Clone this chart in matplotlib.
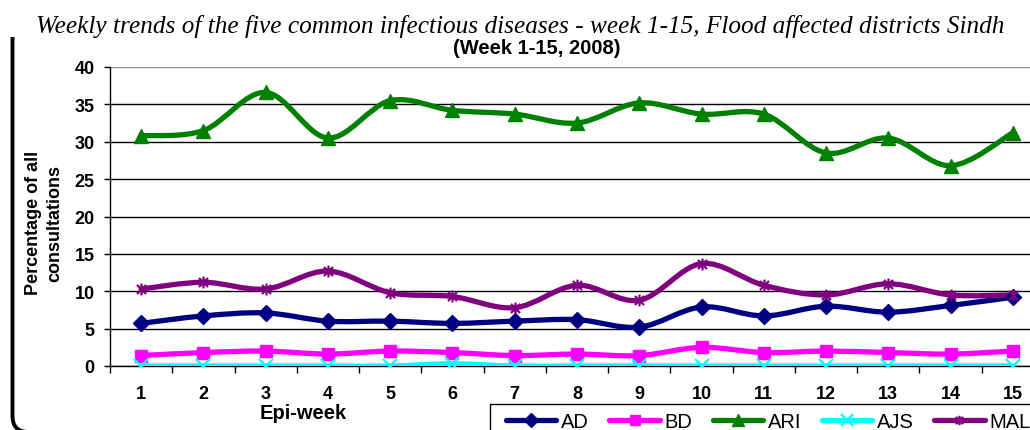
import matplotlib
matplotlib.use("Agg")
import matplotlib.pyplot as plt
import numpy as np
from matplotlib.path import Path
from matplotlib.patches import PathPatch, Rectangle
from matplotlib.lines import Line2D

# Data
weeks = list(range(1, 16))
ad = [5.7, 6.7, 7.1, 6.0, 6.0, 5.7, 6.0, 6.2, 5.2, 7.9, 6.7, 8.0, 7.2, 8.1, 9.2]
bd = [1.4, 1.8, 2.0, 1.6, 2.0, 1.8, 1.4, 1.6, 1.4, 2.5, 1.8, 2.0, 1.8, 1.6, 2.0]
ari = [30.8, 31.5, 36.6, 30.5, 35.5, 34.2, 33.7, 32.5, 35.2, 33.7, 33.7, 28.5, 30.5, 26.8, 31.2]
ajs = [0.0, 0.0, 0.0, 0.0, 0.0, 0.3, 0.0, 0.0, 0.0, 0.0, 0.0, 0.0, 0.0, 0.0, 0.0]
mal = [10.3, 11.2, 10.3, 12.7, 9.8, 9.3, 7.8, 10.8, 8.8, 13.7, 10.8, 9.5, 11.0, 9.5, 9.5]

names = ["AD", "BD", "ARI", "AJS", "MAL"]
colors = ["#000080", "#FF00FF", "#008000", "#00FFFF", "#800080"]

# asterisk-like marker (x plus vertical bar), like Excel's star
star = Path([(-1, -1), (1, 1), (-1, 1), (1, -1), (0, -1.3), (0, 1.3)],
            [Path.MOVETO, Path.LINETO, Path.MOVETO, Path.LINETO, Path.MOVETO, Path.LINETO])
markers = ["D", "s", "^", "x", star]
msizes = [8.5, 9, 10.5, 10, 8.5]


def smooth_path(x, y):
    # Catmull-Rom style bezier through the points (Excel "smoothed line")
    pts = np.column_stack([x, y]).astype(float)
    verts = [pts[0]]
    codes = [Path.MOVETO]
    n = len(pts)
    for i in range(n - 1):
        p0 = pts[max(i - 1, 0)]
        p1 = pts[i]
        p2 = pts[i + 1]
        p3 = pts[min(i + 2, n - 1)]
        c1 = p1 + (p2 - p0) / 6.0
        c2 = p2 - (p3 - p1) / 6.0
        verts += [c1, c2, p2]
        codes += [Path.CURVE4] * 3
    return Path(verts, codes)


plt.rcParams['font.family'] = ['Liberation Sans', 'DejaVu Sans']

W, H = 1030, 431
fig = plt.figure(figsize=(10.3, 4.31), dpi=100)
ax = fig.add_axes([110 / W, 1 - 367 / H, 934 / W, 299 / H])

series = [ad, bd, ari, ajs, mal]
handles = []
for vals, name, c, m, ms in zip(series, names, colors, markers, msizes):
    patch = PathPatch(smooth_path(weeks, vals), fill=False, edgecolor=c, lw=3.8,
                      capstyle='round', joinstyle='round', zorder=3)
    ax.add_patch(patch)
    mew = 1.6 if name in ("AJS", "MAL") else 1
    ax.plot(weeks, vals, ls='none', marker=m, ms=ms, color=c, mec=c, mew=mew, zorder=4)
    handles.append(Line2D([], [], color=c, lw=3.8, marker=m, ms=ms * 0.8, mec=c, mew=mew,
                          solid_capstyle='round'))

ax.set_xlim(0.5, 15.5)
ax.set_ylim(0, 40)
ax.set_yticks(range(0, 41, 5))
ax.set_xticks(weeks)
ax.set_xticks(np.arange(0.5, 15.6, 1), minor=True)
ax.tick_params(axis='x', which='major', length=0, pad=14)
ax.tick_params(axis='x', which='minor', length=5, direction='out', width=1)
ax.tick_params(axis='y', length=4, direction='out', width=1, pad=7)
for lab in ax.get_xticklabels() + ax.get_yticklabels():
    lab.set_fontsize(13)
    lab.set_fontweight('bold')

ax.grid(axis='y', color='black', lw=1)
ax.set_axisbelow(True)
for s in ['top', 'right']:
    ax.spines[s].set_visible(False)
ax.spines['left'].set_linewidth(1)
ax.spines['bottom'].set_linewidth(1)
ax.yaxis.get_gridlines()[-1].set_color('#888888')

ax.set_xlabel("Epi-week", fontsize=14.5, fontweight='bold')
ax.xaxis.set_label_coords((303 - 110) / 934, -(404 - 367) / 299)
ax.set_ylabel("Percentage of all\nconsultations", fontsize=13, fontweight='bold',
              linespacing=1.3)
ax.yaxis.set_label_coords(-(110 - 44) / 934, (367 - 223) / 299)
ax.yaxis.label.set_va('center')

fig.text(520 / W, 1 - 27 / H,
         "Weekly trends of the five common infectious diseases - week 1-15, Flood affected districts Sindh",
         ha='center', va='center', fontsize=18.2, style='italic',
         family=['Liberation Serif', 'DejaVu Serif'])
fig.text(537 / W, 1 - 49 / H, "(Week 1-15, 2008)", ha='center', va='center',
         fontsize=14.5, fontweight='bold')

# left/bottom edge of the original chart's rounded frame
r = 16
fx = [12.5, 12.5, 12.5, 12.5 + r, 1100]
fy = [38, 433 - r, 433, 433, 433]
frame_path = Path([(x / W, 1 - y / H) for x, y in zip(fx, fy)],
                  [Path.MOVETO, Path.LINETO, Path.CURVE3, Path.CURVE3, Path.LINETO])
fig.patches.append(PathPatch(frame_path, fill=False, ec='black', lw=2.8,
                             transform=fig.transFigure, clip_on=False))

# legend box runs past the right and bottom edges, as in the original
fig.patches.append(Rectangle((490 / W, -0.1), 0.6, 0.1 + 1 - 405 / H, fill=False,
                             ec='black', lw=1, transform=fig.transFigure))
leg = fig.legend(handles, names, loc='upper left', bbox_to_anchor=(498 / W, 1 - 405 / H),
                 borderaxespad=0, ncol=5, frameon=False, fontsize=14.5, handlelength=2.5,
                 columnspacing=1.0, handletextpad=0.25, borderpad=0.4)

fig.savefig("out.png", dpi=100)
